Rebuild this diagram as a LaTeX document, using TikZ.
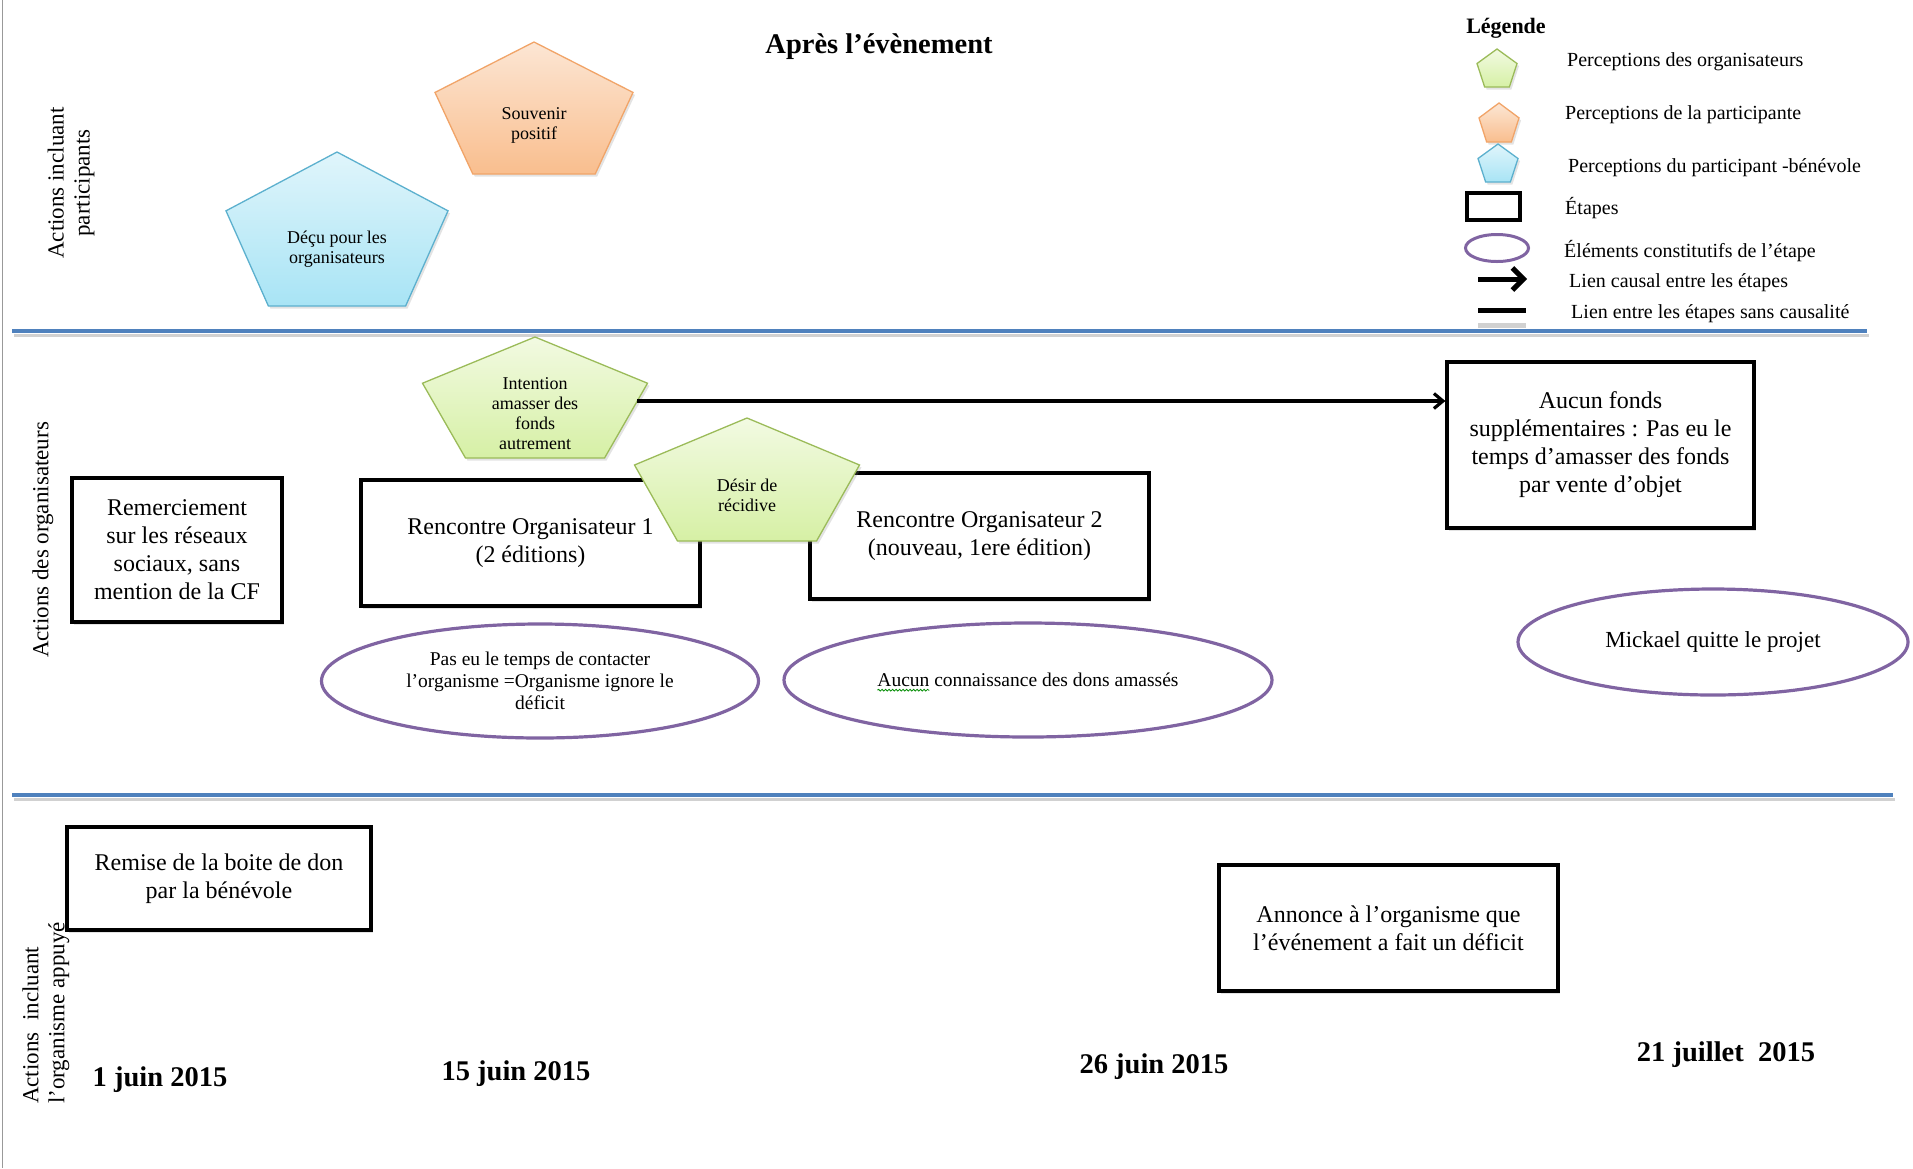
\documentclass[tikz,border=0pt]{standalone}
\usepackage{fontspec}
\setmainfont{Liberation Serif}
\usetikzlibrary{arrows.meta,shapes.geometric,shadows,decorations.pathmorphing}

\definecolor{laneblue}{RGB}{79,129,189}
\definecolor{elpurple}{RGB}{128,100,162}
\definecolor{grnedge}{RGB}{155,187,89}
\definecolor{grntop}{RGB}{242,250,226}
\definecolor{grnbot}{RGB}{214,240,165}
\definecolor{orgedge}{RGB}{241,164,104}
\definecolor{orgtop}{RGB}{252,230,212}
\definecolor{orgbot}{RGB}{249,190,142}
\definecolor{bluedge}{RGB}{92,176,206}
\definecolor{blutop}{RGB}{224,245,251}
\definecolor{blubot}{RGB}{168,228,245}

\tikzset{
  softshadow/.style={drop shadow={opacity=0.22, shadow xshift=2pt, shadow yshift=-2.5pt}},
  lane/.style={draw=laneblue, line width=3.2pt},
  laneshade/.style={draw=black!18, line width=3pt},
  stepbox/.style={draw, line width=3.2pt, rectangle, align=center, fill=white,
    font=\fontsize{24}{28}\selectfont, softshadow},
  element/.style={draw=elpurple, line width=3.2pt, ellipse, align=center, inner sep=0pt,
    font=\fontsize{19.5}{22}\selectfont},
  pentgreen/.style={draw=grnedge, line width=1.3pt, top color=grntop, bottom color=grnbot, softshadow},
  pentorange/.style={draw=orgedge, line width=1.3pt, top color=orgtop, bottom color=orgbot, softshadow},
  pentblue/.style={draw=bluedge, line width=1.3pt, top color=blutop, bottom color=blubot, softshadow},
  pentlabel/.style={align=center, inner sep=0pt, font=\fontsize{18}{20}\selectfont},
  causal/.style={line width=3.2pt, -{Straight Barb[length=9pt,width=15pt]}},
  lanelabel/.style={rotate=90, font=\fontsize{23}{26}\selectfont},
  datelabel/.style={font=\bfseries\fontsize{28.5}{32}\selectfont},
  legtext/.style={anchor=west, inner sep=0pt, font=\fontsize{20}{22}\selectfont},
}

% pentagon: name, centre x, top y, half width, height, style, text
\newcommand{\pentshape}[7]{%
  \path[#6] (#2,#3) -- ({#2+#4},{#3+0.382*#5}) -- ({#2+0.618*#4},{#3+#5})
    -- ({#2-0.618*#4},{#3+#5}) -- ({#2-#4},{#3+0.382*#5}) -- cycle;
  \node[pentlabel] (#1) at (#2,{#3+0.63*#5}) {#7};
}

\begin{document}
\begin{tikzpicture}[x=1pt,y=-1pt]
\useasboundingbox[fill=white] (0,0) rectangle (1913,1168);

% page edge
\draw[black!40, line width=1.2pt] (2.5,0) -- (2.5,1168);

% lane separators
\draw[laneshade] (14,335) -- (1869,335);
\draw[lane] (12,331) -- (1867,331);
\draw[laneshade] (14,799) -- (1895,799);
\draw[lane] (12,795) -- (1893,795);

% lane titles
\node[lanelabel, align=center] (laneA) at (71,183) {Actions incluant\\participants};
\node[lanelabel] (laneB) at (43,540) {Actions des organisateurs};
\node[lanelabel, align=left] (laneC) at (46,1013) {Actions\ \ incluant\\l'organisme appuyé};

% title
\node[font=\bfseries\fontsize{28.5}{32}\selectfont] (title) at (879,47) {Après l’évènement};

% legend
\node[font=\bfseries\fontsize{22}{26}\selectfont] (legtitle) at (1506,28) {Légende};
\pentshape{legG}{1497}{49}{20}{38}{pentgreen}{}
\pentshape{legO}{1499}{103}{20}{39}{pentorange}{}
\pentshape{legB}{1498}{144}{20}{38}{pentblue}{}
\node[draw, line width=3.5pt, minimum width=53pt, minimum height=27pt, inner sep=0pt] (legR) at (1493.5,206.5) {};
\node[draw=elpurple, line width=3pt, ellipse, minimum width=63pt, minimum height=27pt, inner sep=0pt] (legE) at (1497,248) {};
\coordinate (legA1) at (1478,279);
\coordinate (legA2) at (1527,279);
\draw[line width=5pt, -{Straight Barb[length=11pt,width=22pt]}] (legA1) -- (legA2);
\coordinate (legL1) at (1478,310);
\coordinate (legL2) at (1526,310);
\draw[black!18, line width=5pt] ([yshift=-15pt]legL1) -- ([yshift=-15pt]legL2);
\draw[line width=5pt] (legL1) -- (legL2);

\node[legtext] (lt1) at (1567,62) {Perceptions des organisateurs};
\node[legtext] (lt2) at (1565,115) {Perceptions de la participante};
\node[legtext] (lt3) at (1568,168) {Perceptions du participant -bénévole};
\node[legtext] (lt4) at (1565,208) {Étapes};
\node[legtext] (lt5) at (1564,251) {Éléments constitutifs de l’étape};
\node[legtext] (lt6) at (1569,283) {Lien causal entre les étapes};
\node[legtext] (lt7) at (1571,314) {Lien entre les étapes sans causalité};

% participants lane
\pentshape{souvenir}{534}{42}{99}{132}{pentorange}{Souvenir\\positif}
\pentshape{decu}{337}{152}{111}{154}{pentblue}{Déçu pour les\\organisateurs}

% organisers lane
\node[stepbox, minimum width=210pt, minimum height=144pt] (remerc) at (177,550)
  {Remerciement\\sur les réseaux\\sociaux, sans\\mention de la CF};
\node[stepbox, minimum width=339pt, minimum height=126pt] (ro1) at (530.5,543)
  {Rencontre Organisateur 1\\(2 éditions)};
\node[stepbox, minimum width=339pt, minimum height=126pt] (ro2) at (979.5,536)
  {Rencontre Organisateur 2\\(nouveau, 1ere édition)};
\node[stepbox, minimum width=307pt, minimum height=166pt] (aucun) at (1600.5,445)
  {Aucun fonds\\supplémentaires : Pas eu le\\temps d’amasser des fonds\\par vente d’objet};

\pentshape{intention}{535}{337}{112.5}{121}{pentgreen}{Intention\\amasser des\\fonds\\autrement}
\pentshape{desir}{747}{418}{112.5}{123}{pentgreen}{Désir de\\récidive}

\coordinate (intR) at (637,401);
\draw[causal] (intR) -- (intR -| aucun.west);

\node[element, minimum width=437pt, minimum height=114pt] (el1) at (540,681)
  {Pas eu le temps de contacter\\l'organisme =Organisme ignore le\\déficit};
\node[element, minimum width=488pt, minimum height=114pt] (el2) at (1028,680)
  {Aucun connaissance des dons amassés};
\draw[green!55!black, line width=0.8pt, decorate,
  decoration={snake, amplitude=0.9pt, segment length=3.5pt}]
  ([yshift=-3.5pt]el2.text) -- ++(52,0);
\node[element, minimum width=390pt, minimum height=106pt, font=\fontsize{23}{26}\selectfont] (el3) at (1713,642)
  {Mickael quitte le projet};

% supported-organisation lane
\node[stepbox, minimum width=304pt, minimum height=103pt] (remise) at (219,878.5)
  {Remise de la boite de don\\par la bénévole};
\node[stepbox, minimum width=339pt, minimum height=126pt] (annonce) at (1388.5,928)
  {Annonce à l’organisme que\\l’événement a fait un déficit};

% dates
\node[datelabel] (d1) at (160,1080) {1 juin 2015};
\node[datelabel] (d2) at (516,1074) {15 juin 2015};
\node[datelabel] (d3) at (1154,1067) {26 juin 2015};
\node[datelabel] (d4) at (1726,1055) {21 juillet\ \ 2015};
\end{tikzpicture}
\end{document}
